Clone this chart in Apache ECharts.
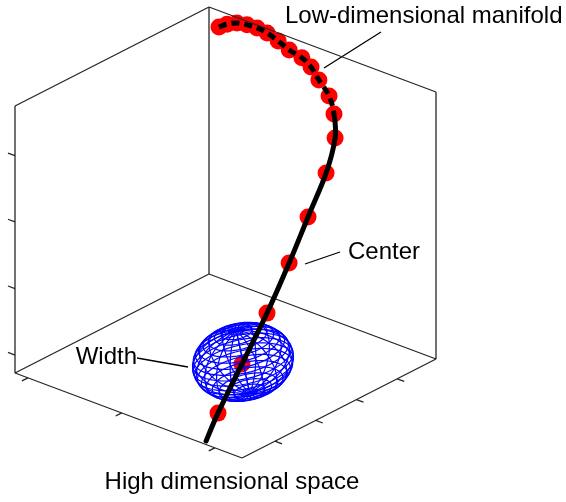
<!DOCTYPE html>
<html><head><meta charset="utf-8">
<script src="https://cdn.jsdelivr.net/npm/echarts@6/dist/echarts.min.js"></script>
<style>html,body{margin:0;padding:0;background:#fff}#c{width:566px;height:502px}</style>
</head><body><div id="c"></div>
<script>
// Manifold sample points ("centers") in unit-box coordinates
// u: front-left floor axis, v: depth floor axis, w: vertical axis
const centerU = [0.080,0.106,0.136,0.176,0.217,0.262,0.320,0.378,0.440,0.493,0.543,0.599,0.631,0.664,0.691,0.720,0.746,0.765,0.776,0.790];
const centerV = [0.958,0.969,0.985,0.990,0.994,0.993,0.982,0.971,0.964,0.949,0.931,0.918,0.906,0.873,0.795,0.668,0.540,0.404,0.262,0.122];
const centerW = [0.966,0.981,0.989,0.993,0.993,0.989,0.981,0.970,0.963,0.951,0.925,0.888,0.835,0.768,0.674,0.566,0.449,0.318,0.184,0.056];
// end of the manifold curve (beyond last sample)
const tailU = [0.824];
const tailV = [0.021];
const tailW = [0.000];
const dashedCount = 13;          // the far (upper) part of the curve looks dashed
const widthCenterIndex = 18;     // sample around which the width ellipsoid sits
// tick positions on the box edges (unit-box coordinates)
const uTicks = [0.057, 0.47, 0.88];
const vTicks = [0.17, 0.38, 0.59, 0.80];
const wTicks = [0.067, 0.316, 0.566, 0.814];
const labelManifold = 'Low-dimensional manifold';
const labelCenter = 'Center';
const labelWidth = 'Width';
const labelSpace = 'High dimensional space';

// ---- view / layout ----
const EU = [227, 85], EV = [194, -99], EW = [0, -267];
function proj(u, v, w) { return [EU[0]*u + EV[0]*v + EW[0]*w, EU[1]*u + EV[1]*v + EW[1]*w]; }
const boxEdges = [
  [[0,0,0],[0,0,1]], [[0,1,0],[0,1,1]], [[1,1,0],[1,1,1]],
  [[0,0,1],[0,1,1]], [[0,1,1],[1,1,1]],
  [[0,0,0],[0,1,0]], [[0,1,0],[1,1,0]],
  [[0,0,0],[1,0,0]], [[1,0,0],[1,1,0]]
];
const TL = 0.031;
const edgeData = boxEdges.map(e => ({coords: e.map(p => proj(p[0],p[1],p[2]))}));
wTicks.forEach(t => edgeData.push({coords: [proj(0,0,t), proj(-TL,0,t)]}));
uTicks.forEach(t => edgeData.push({coords: [proj(t,0,0), proj(t,-TL,0)]}));
vTicks.forEach(t => edgeData.push({coords: [proj(1,t,0), proj(1+TL,t,0)]}));

const centers = centerU.map((u,i) => proj(u, centerV[i], centerW[i]));
const tail = tailU.map((u,i) => proj(u, tailV[i], tailW[i]));
const curvePts = centers.concat(tail);

// ellipsoid wireframe (shape in view units)
const EA = 51, EB = 39, EC = 39, tau = 55*Math.PI/180, al = -12*Math.PI/180, NM = 20;
const ec = centers[widthCenterIndex];
const eOff = [1, -2];
function ellPoint(phi, th) {
  const x = EA*Math.sin(phi)*Math.cos(th), y = EB*Math.sin(phi)*Math.sin(th), z = EC*Math.cos(phi);
  const y2 = y*Math.cos(tau) - z*Math.sin(tau);
  const dx = x*Math.cos(al) - y2*Math.sin(al), dy = x*Math.sin(al) + y2*Math.cos(al);
  return [ec[0] + eOff[0] + dx, ec[1] + eOff[1] + dy];
}
const meshData = [];
for (let i = 1; i < NM; i++) {
  const phi = Math.PI*i/NM, c = [];
  for (let k = 0; k <= 48; k++) c.push(ellPoint(phi, 2*Math.PI*k/48));
  meshData.push({coords: c});
}
for (let j = 0; j < NM; j++) {
  const th = 2*Math.PI*j/NM, c = [];
  for (let k = 0; k <= 30; k++) c.push(ellPoint(Math.PI*k/30, th));
  meshData.push({coords: c});
}

// smooth (Catmull-Rom) rendering of the manifold curve through the axis scales
function curvePath(px, from, to) {
  let d = 'M' + px[from][0] + ' ' + px[from][1];
  for (let i = from; i < to; i++) {
    const p0 = px[Math.max(i-1,0)], p1 = px[i], p2 = px[i+1], p3 = px[Math.min(i+2, px.length-1)];
    const c1 = [p1[0] + (p2[0]-p0[0])/6, p1[1] + (p2[1]-p0[1])/6];
    const c2 = [p2[0] - (p3[0]-p1[0])/6, p2[1] - (p3[1]-p1[1])/6];
    d += ' C' + c1[0] + ' ' + c1[1] + ' ' + c2[0] + ' ' + c2[1] + ' ' + p2[0] + ' ' + p2[1];
  }
  return d;
}
function renderCurve(params, api) {
  const px = curvePts.map(p => api.coord(p));
  return {type: 'group', children: [
    {type: 'path', shape: {pathData: curvePath(px, 0, dashedCount - 1)},
     style: {stroke: '#000', lineWidth: 5, fill: null, lineDash: [8, 5]}},
    {type: 'path', shape: {pathData: curvePath(px, dashedCount - 1, px.length - 1)},
     style: {stroke: '#000', lineWidth: 5, fill: null, lineCap: 'round'}}
  ]};
}

const FONT = '24px "Liberation Sans", Arial, Helvetica, sans-serif';
const chart = echarts.init(document.getElementById('c'));
chart.setOption({
  animation: false,
  backgroundColor: '#fff',
  grid: {left: 0, right: 0, top: 0, bottom: 0, containLabel: false},
  xAxis: {type: 'value', min: -15, max: 551, show: false},
  yAxis: {type: 'value', min: -373, max: 129, inverse: true, show: false},
  series: [
    {type: 'scatter', data: centers, symbol: 'circle', symbolSize: 17,
     itemStyle: {color: '#ff0000', opacity: 1}, z: 2, silent: true},
    {type: 'lines', coordinateSystem: 'cartesian2d', polyline: true, data: edgeData,
     lineStyle: {color: '#262626', width: 1.3, opacity: 1}, z: 3, silent: true},
    {type: 'lines', coordinateSystem: 'cartesian2d', polyline: true, data: meshData,
     lineStyle: {color: '#0000ff', width: 1.2, opacity: 1}, z: 4, silent: true},
    {type: 'custom', coordinateSystem: 'cartesian2d', data: [curvePts[0]],
     renderItem: renderCurve, z: 5, silent: true, clip: false}
  ],
  graphic: [
    {type: 'text', style: {text: labelManifold, x: 285, y: 16.5, font: FONT, fill: '#000', textAlign: 'left', textVerticalAlign: 'middle'}},
    {type: 'text', style: {text: labelCenter, x: 348, y: 252.5, font: FONT, fill: '#000', textAlign: 'left', textVerticalAlign: 'middle'}},
    {type: 'text', style: {text: labelWidth, x: 137, y: 357.5, font: FONT, fill: '#000', textAlign: 'right', textVerticalAlign: 'middle'}},
    {type: 'text', style: {text: labelSpace, x: 232, y: 482.5, font: FONT, fill: '#000', textAlign: 'center', textVerticalAlign: 'middle'}},
    {type: 'line', shape: {x1: 324, y1: 68, x2: 381, y2: 32}, style: {stroke: '#000', lineWidth: 1.3}},
    {type: 'line', shape: {x1: 305, y1: 264, x2: 340, y2: 252}, style: {stroke: '#000', lineWidth: 1.3}},
    {type: 'line', shape: {x1: 137, y1: 358, x2: 188, y2: 367}, style: {stroke: '#000', lineWidth: 1.3}}
  ]
});
</script></body></html>
